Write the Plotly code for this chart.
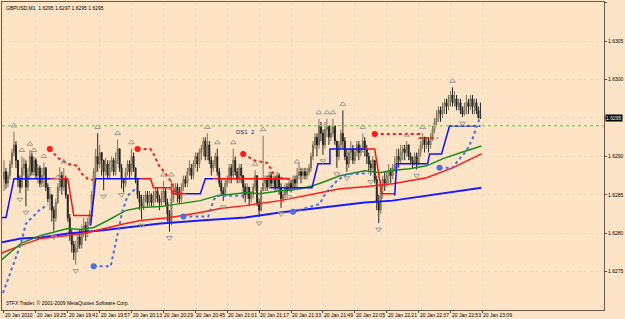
import plotly.graph_objects as go

# ---------------- data (prices in pips above PRICE_BASE) ----------------
PRICE_BASE = 1.6270
symbol_title = "GBPUSD,M1  1.6295 1.6297 1.6295 1.6295"
copyright_text = "3TFX Trader, \u00a9 2001-2009 MetaQuotes Software Corp."
bid_label = "1.6295"
bid_price = 1.6295
hline_price = 1.6294
hline_text = "DS1  2"
hline_text_bar = 115.5

time_tick_bars = [0, 16, 32, 48, 64, 80, 96, 112, 128, 144, 160, 176, 192, 208, 224, 240]
time_tick_labels = ["20 Jan 2010", "20 Jan 19:25", "20 Jan 19:41", "20 Jan 19:57", "20 Jan 20:13",
                    "20 Jan 20:29", "20 Jan 20:45", "20 Jan 21:01", "20 Jan 21:17", "20 Jan 21:33",
                    "20 Jan 21:49", "20 Jan 22:05", "20 Jan 22:21", "20 Jan 22:37", "20 Jan 22:53",
                    "20 Jan 23:09"]
price_ticks = [1.6275, 1.6280, 1.6285, 1.6290, 1.6295, 1.6300, 1.6305, 1.6310]

open_first = 17.0
close_pips = [
    18.0, 16.5, 17.5, 19.0, 20.5, 21.5, 19.5, 17.0, 16.0, 18.5,
    19.0, 16.0, 17.5, 20.0, 18.0, 19.5, 17.5, 18.5, 16.5, 17.5,
    18.5, 16.0, 14.5, 15.0, 13.0, 12.0, 14.0, 16.0, 17.5, 16.0,
    17.0, 15.0, 12.0, 10.0, 8.5, 7.5, 8.0, 9.5, 8.5, 10.5,
    11.0, 10.0, 11.5, 12.5, 15.0, 18.0, 20.0, 19.0, 20.5, 19.5,
    18.0, 19.0, 17.5, 18.5, 19.5, 18.0, 19.5, 21.0, 18.5, 17.0,
    16.5, 18.0, 19.0, 18.0, 20.0, 18.5, 17.0, 15.0, 14.0, 13.5,
    14.5, 15.0, 14.0, 15.0, 14.0, 14.5, 15.5, 14.5, 14.0, 14.5,
    15.5, 14.0, 12.5, 11.5, 14.5, 15.5, 16.0, 15.0, 14.5, 16.0,
    17.0, 16.5, 18.0, 18.5, 17.5, 19.0, 20.0, 19.0, 20.5, 21.0,
    22.0, 20.0, 21.5, 19.5, 18.5, 19.0, 20.0, 18.0, 16.5, 15.5,
    15.0, 16.5, 17.0, 18.5, 17.5, 19.5, 18.0, 17.0, 18.5, 17.5,
    16.0, 15.0, 16.0, 14.5, 15.0, 16.0, 17.5, 14.0, 13.0, 15.5,
    16.5, 17.0, 16.0, 17.5, 16.5, 17.0, 16.0, 17.5, 16.0, 14.5,
    15.0, 16.0, 15.5, 16.5, 16.0, 17.0, 16.5, 17.5, 18.0, 17.5,
    18.0, 17.5, 18.0, 18.5, 20.0, 21.5, 22.5, 21.5, 24.0, 23.0,
    21.5, 23.5, 24.0, 22.5, 23.0, 24.0, 22.0, 20.0, 21.5, 23.0,
    22.0, 20.0, 19.0, 20.5, 21.0, 19.5, 20.5, 21.5, 20.5, 21.0,
    22.0, 21.0, 20.0, 19.0, 18.5, 19.5, 17.0, 14.0, 13.0, 16.0,
    17.0, 16.5, 17.5, 18.0, 17.5, 18.5, 19.0, 20.0, 19.5, 20.5,
    21.0, 20.5, 21.5, 20.0, 19.5, 19.0, 20.0, 19.0, 20.5, 21.5,
    22.5, 21.5, 22.0, 21.5, 22.5, 23.5, 24.5, 25.0, 26.0, 25.5,
    26.5, 27.0, 26.5, 27.5, 28.0, 27.0, 27.5, 26.5, 27.0, 26.0,
    25.5, 26.5, 27.0, 26.5, 27.5, 26.5, 27.0, 26.0, 25.0, 25.0,
]
high_pips = [
    19.5, 18.5, 18.0, 19.5, 21.0, 23.2, 22.0, 19.5, 17.5, 20.0,
    19.8, 19.5, 18.5, 20.8, 20.5, 20.0, 19.8, 19.0, 18.8, 18.5,
    19.2, 18.6, 16.5, 16.0, 15.0, 13.5, 14.5, 16.5, 18.6, 18.0,
    18.5, 17.5, 15.0, 12.5, 10.5, 9.0, 9.0, 10.0, 10.5, 11.0,
    12.0, 11.5, 12.0, 13.0, 15.5, 18.5, 21.0, 23.0, 21.5, 20.5,
    19.5, 19.8, 19.5, 19.5, 20.0, 19.8, 20.5, 22.2, 21.0, 19.0,
    17.0, 18.5, 19.5, 19.5, 21.0, 20.5, 18.5, 17.0, 15.5, 15.0,
    15.0, 15.5, 15.5, 15.5, 15.2, 15.5, 16.0, 16.0, 15.0, 15.5,
    16.8, 16.0, 14.5, 13.0, 16.8, 16.5, 16.5, 16.5, 16.0, 16.5,
    17.5, 17.5, 18.5, 19.5, 19.0, 19.5, 20.5, 20.5, 21.0, 21.5,
    22.5, 22.5, 23.0, 22.0, 20.0, 19.5, 20.5, 21.0, 18.5, 17.0,
    16.0, 17.0, 17.5, 19.0, 19.0, 21.0, 20.0, 18.5, 19.0, 19.0,
    17.0, 16.5, 16.5, 16.0, 15.5, 16.5, 18.2, 17.5, 14.5, 16.0,
    22.7, 17.5, 17.5, 18.0, 18.0, 17.5, 17.5, 18.0, 17.8, 16.5,
    15.5, 16.5, 16.5, 17.0, 17.0, 17.5, 17.5, 18.5, 19.1, 18.5,
    18.5, 18.5, 18.5, 19.0, 20.5, 22.0, 23.0, 23.0, 24.9, 24.5,
    23.5, 24.5, 24.9, 24.0, 24.0, 24.9, 24.0, 22.0, 22.0, 23.5,
    26.0, 22.5, 21.0, 21.0, 22.0, 21.5, 21.0, 22.0, 22.0, 21.5,
    23.0, 22.5, 21.5, 20.5, 19.5, 20.0, 19.5, 17.5, 15.0, 17.0,
    17.5, 18.0, 18.0, 19.0, 18.5, 19.0, 20.0, 21.0, 21.0, 21.5,
    21.5, 21.5, 22.0, 21.5, 20.5, 20.0, 20.5, 20.5, 21.0, 22.0,
    23.0, 22.5, 22.5, 22.5, 23.0, 24.0, 25.0, 26.0, 26.5, 26.5,
    27.0, 27.5, 27.5, 28.0, 28.5, 29.0, 28.5, 28.0, 27.5, 27.5,
    26.5, 27.0, 28.0, 27.5, 28.0, 28.0, 27.5, 27.5, 26.5, 27.0,
]
low_pips = [
    15.5, 15.8, 16.0, 17.0, 18.5, 20.0, 18.5, 16.0, 15.2, 15.8,
    17.5, 13.5, 15.5, 17.0, 17.5, 17.5, 17.0, 16.5, 16.0, 16.0,
    16.0, 15.5, 14.0, 13.0, 11.5, 10.3, 11.5, 13.8, 15.5, 15.0,
    15.5, 14.5, 11.5, 9.0, 7.5, 6.5, 5.9, 7.5, 8.0, 8.0,
    9.5, 9.0, 9.5, 11.0, 12.5, 14.5, 17.0, 18.0, 18.5, 17.5,
    15.6, 17.5, 17.0, 17.0, 18.0, 17.5, 17.5, 19.0, 18.0, 15.8,
    15.3, 16.0, 17.5, 17.0, 17.5, 18.0, 16.5, 14.5, 13.0, 11.8,
    13.0, 14.0, 13.5, 13.5, 13.5, 13.5, 14.0, 14.0, 13.0, 13.5,
    14.0, 13.5, 11.5, 10.2, 11.0, 14.0, 15.0, 14.0, 13.8, 14.0,
    15.5, 16.0, 16.0, 17.5, 17.0, 17.0, 18.5, 18.0, 18.5, 19.5,
    20.0, 19.5, 19.5, 19.0, 17.5, 18.0, 18.5, 17.5, 16.0, 15.0,
    14.2, 14.8, 16.0, 16.5, 16.5, 17.0, 17.5, 16.5, 16.5, 16.5,
    14.5, 14.0, 14.5, 13.5, 14.0, 14.5, 15.5, 13.5, 12.1, 12.8,
    15.5, 15.5, 15.5, 15.8, 16.0, 16.0, 15.5, 15.5, 15.0, 13.3,
    14.0, 14.5, 15.0, 15.5, 15.3, 15.5, 16.0, 16.0, 17.0, 16.5,
    17.0, 17.0, 17.0, 17.5, 18.0, 19.5, 21.0, 20.0, 21.0, 22.0,
    20.2, 21.0, 22.5, 21.5, 22.0, 22.5, 21.5, 18.5, 19.5, 21.0,
    21.0, 19.5, 18.0, 18.5, 19.5, 19.0, 19.0, 20.0, 19.5, 20.0,
    20.5, 20.0, 19.0, 18.0, 17.5, 18.0, 16.5, 13.0, 11.3, 12.5,
    14.5, 15.5, 16.0, 16.5, 16.5, 17.0, 18.0, 18.5, 18.5, 19.0,
    19.5, 19.5, 20.0, 19.5, 19.0, 18.5, 18.8, 18.3, 18.8, 20.0,
    21.0, 20.5, 21.0, 20.5, 21.0, 22.0, 23.0, 24.0, 24.5, 24.5,
    25.0, 25.5, 25.5, 26.0, 26.5, 26.5, 26.5, 26.0, 26.0, 25.5,
    25.1, 25.3, 25.5, 25.5, 26.0, 25.5, 25.5, 25.5, 25.0, 25.0,
]

# fractal bars
fractal_up_bars = [5, 9, 13, 15, 20, 27, 30, 47, 57, 64, 80, 84, 102, 107, 115, 126, 130, 147,
                   158, 162, 165, 170, 180, 202, 210, 225]
fractal_down_bars = [8, 11, 25, 36, 50, 59, 69, 83, 110, 128, 139, 143, 160, 167, 172, 184, 188,
                     207, 230]

# moving averages (bar, pips)
ma_green_bar = [-1.5, 8.5, 18.5, 32, 38.5, 45, 52, 61, 68.5, 78.5, 88.5, 98.5, 107, 121, 128.5,
                138.5, 148.5, 155, 162, 168.5, 181, 188.5, 193.5, 203.5, 212, 220, 228.5, 239.5]
ma_green_val = [6.47, 8.67, 9.71, 10.61, 10.49, 10.74, 11.65, 12.94, 13.33, 13.46, 13.85, 14.24,
                14.89, 15.28, 15.15, 15.53, 15.79, 16.18, 16.83, 17.48, 18.12, 17.86, 18.12, 18.38,
                18.77, 19.68, 20.45, 21.36]
ma_red_bar = [-1.5, 8.5, 18.5, 32, 42, 52, 61, 68.5, 83.5, 98.5, 108.5, 121, 138.5, 158.5, 168.5,
              181, 195, 212, 225, 239.5]
ma_red_val = [7.38, 8.41, 9.32, 9.71, 10.10, 10.74, 11.26, 11.65, 12.04, 12.69, 13.20, 13.59,
              14.24, 15.28, 15.79, 16.05, 16.44, 17.22, 18.51, 20.32]
ma_blue_bar = [-1.5, 8.5, 18.5, 32, 48.5, 61, 78.5, 98.5, 121, 138.5, 158.5, 181, 195, 212, 228.5,
               239.5]
ma_blue_val = [8.80, 9.32, 9.45, 9.97, 10.36, 10.74, 11.26, 11.65, 12.04, 12.69, 13.33, 13.98,
               14.24, 14.89, 15.53, 15.92]

# step lines (None separates segments)
step_blue_bar = [-1.5, 1, 5, 23.5, None, 43.5, 46, 68.5, None, 91, 98.5, 101, 105, None,
                 133.5, 154.5, 157.5, 163.5, 163.5, 181, None,
                 196, 197, 212.5, 213.5, 219.5, 223.5, 239]
step_blue_val = [12.04, 12.04, 17.09, 17.09, None, 11.00, 17.09, 17.09, None, 15.15, 15.15, 17.09,
                 17.09, None, 15.92, 15.92, 19.03, 19.03, 20.97, 20.97, None,
                 14.89, 19.03, 19.03, 20.32, 20.32, 23.95, 23.95]
step_red_bar = [23.5, 32, 35, 44.5, None, 68.5, 73.5, 75, 83.5, 85, 91, None, 105, 143.5, None,
                181, 186, 189.5, 196]
step_red_val = [17.09, 17.09, 12.30, 12.30, None, 17.09, 17.09, 15.92, 15.92, 15.15, 15.15, None,
                17.09, 17.09, None, 20.97, 20.97, 15.15, 15.15]

# trailing dots (each list starts at the trail start)
trail_red = [
    ([23, 27, 32, 37, 38.5, 42, 44.5], [20.97, 19.81, 19.03, 18.77, 17.86, 17.09, 16.96]),
    ([67, 73.5, 75, 77.5, 80, 83.5, 85, 86, 89.5], [20.97, 20.97, 20.32, 18.90, 18.12, 16.83, 15.79, 15.28, 15.15]),
    ([120, 126, 132, 134.5, 136, 143.5], [20.32, 19.42, 19.16, 18.12, 17.22, 17.09]),
    ([186, 208.5, 208.5, 217.5], [22.91, 22.91, 22.39, 22.39]),
]
trail_blue = [
    ([-0.5, 3.5, 8.5, 11, 17.5, 22], [2.2, 5.18, 8.67, 11.26, 12.94, 13.72]),
    ([45, 53.5, 56, 58, 59.5, 62, 66], [5.70, 5.70, 8.67, 10.94, 12.94, 14.89, 15.79]),
    ([90, 102.5, 103.5, 105, 106.8, 121], [12.17, 12.17, 12.94, 14.24, 14.89, 14.89]),
    ([145, 158.5, 160, 162.5, 167, 172, 183], [12.8, 13.8, 14.67, 15.53, 16.83, 17.7, 17.8]),
    ([218.5, 225, 228.5, 232, 235, 238.5, 239.5], [18.51, 18.51, 19.68, 20.71, 22.26, 24.86, 25.2]),
]
trail_starts_open = [False, True, True, True, True]


def px(v):
    return None if v is None else PRICE_BASE + v / 10000.0


bars = list(range(len(close_pips)))
opens = [open_first] + close_pips[:-1]
o = [px(v) for v in opens]
c = [px(v) for v in close_pips]
h = [px(max(hh, oo, cc)) for hh, oo, cc in zip(high_pips, opens, close_pips)]
l = [px(min(ll, oo, cc)) for ll, oo, cc in zip(low_pips, opens, close_pips)]

FONT = "Liberation Sans, Arial, sans-serif"
BG = "#FDE4C6"
SMALL = 5

fig = go.Figure()

# MAs
fig.add_trace(go.Scatter(x=ma_blue_bar, y=[px(v) for v in ma_blue_val], mode="lines",
                         line=dict(color="#1a1aff", width=2), hoverinfo="skip"))
fig.add_trace(go.Scatter(x=ma_red_bar, y=[px(v) for v in ma_red_val], mode="lines",
                         line=dict(color="#ff1a1a", width=1.5), hoverinfo="skip"))
fig.add_trace(go.Scatter(x=ma_green_bar, y=[px(v) for v in ma_green_val], mode="lines",
                         line=dict(color="#1a8c1a", width=1.5), hoverinfo="skip"))

# candles
fig.add_trace(go.Candlestick(
    x=bars, open=o, high=h, low=l, close=c,
    increasing=dict(line=dict(color="#7a7258", width=1), fillcolor="#c4b897"),
    decreasing=dict(line=dict(color="#222222", width=1), fillcolor="#222222"),
    whiskerwidth=0, hoverinfo="skip"))

# step lines
fig.add_trace(go.Scatter(x=step_red_bar, y=[px(v) for v in step_red_val], mode="lines",
                         line=dict(color="#ff1010", width=1.5), connectgaps=False, hoverinfo="skip"))
fig.add_trace(go.Scatter(x=step_blue_bar, y=[px(v) for v in step_blue_val], mode="lines",
                         line=dict(color="#1010ff", width=1.5), connectgaps=False, hoverinfo="skip"))

# trailing dotted lines
for xs, ys in trail_red:
    fig.add_trace(go.Scatter(x=xs, y=[px(v) for v in ys], mode="lines",
                             line=dict(color="#ff1a1a", width=2, dash="dot"), hoverinfo="skip"))
    fig.add_trace(go.Scatter(x=[xs[0]], y=[px(ys[0])], mode="markers",
                             marker=dict(color="#ff1a1a", size=6), hoverinfo="skip"))
for (xs, ys), has_start in zip(trail_blue, trail_starts_open):
    fig.add_trace(go.Scatter(x=xs, y=[px(v) for v in ys], mode="lines",
                             line=dict(color="#4a6fe0", width=2, dash="dot"), hoverinfo="skip"))
    if has_start:
        fig.add_trace(go.Scatter(x=[xs[0]], y=[px(ys[0])], mode="markers",
                                 marker=dict(color="#4a6fe0", size=6), hoverinfo="skip"))

# fractals
fig.add_trace(go.Scatter(x=fractal_up_bars, y=[h[i] + 0.00008 for i in fractal_up_bars],
                         mode="markers", hoverinfo="skip",
                         marker=dict(symbol="triangle-up-open", size=5, color="#999999",
                                     line=dict(width=1, color="#999999"))))
fig.add_trace(go.Scatter(x=fractal_down_bars, y=[l[i] - 0.00008 for i in fractal_down_bars],
                         mode="markers", hoverinfo="skip",
                         marker=dict(symbol="triangle-down-open", size=5, color="#999999",
                                     line=dict(width=1, color="#999999"))))

# horizontal line
fig.add_shape(type="line", xref="paper", x0=0, x1=1, yref="y", y0=hline_price, y1=hline_price,
              line=dict(color="#86d46e", width=1.5, dash="dot"))

annotations = []
for b, t in zip(time_tick_bars, time_tick_labels):
    annotations.append(dict(x=b, xref="x", y=0, yref="paper", text=t, showarrow=False,
                            xanchor="left", yanchor="top", xshift=-1, yshift=0,
                            font=dict(family=FONT, size=SMALL, color="#000000")))
annotations.append(dict(x=hline_text_bar, xref="x", y=hline_price, yref="y", text=hline_text,
                        showarrow=False, xanchor="left", yanchor="top", yshift=-1,
                        font=dict(family=FONT, size=6, color="#1c1c80")))
annotations.append(dict(x=0, xref="paper", y=1, yref="paper", text=symbol_title, showarrow=False,
                        xanchor="left", yanchor="top", xshift=2, yshift=-1,
                        font=dict(family=FONT, size=SMALL, color="#000000")))
annotations.append(dict(x=0, xref="paper", y=0, yref="paper", text=copyright_text, showarrow=False,
                        xanchor="left", yanchor="bottom", xshift=2, yshift=2,
                        font=dict(family=FONT, size=SMALL, color="#000000")))
annotations.append(dict(x=1, xref="paper", y=bid_price, yref="y", text=bid_label, showarrow=False,
                        xanchor="left", yanchor="middle", xshift=1, bgcolor="#000000", borderpad=0,
                        font=dict(family=FONT, size=SMALL, color="#ffffff")))

fig.update_layout(
    width=625, height=319,
    margin=dict(l=1, r=19, t=1, b=9),
    paper_bgcolor=BG, plot_bgcolor=BG,
    showlegend=False,
    annotations=annotations,
    xaxis=dict(range=[-1, 301], tickvals=time_tick_bars, showticklabels=False,
               ticks="outside", ticklen=2, tickcolor="#5a4a3a",
               showgrid=True, gridcolor="#f6dcbe", griddash="dot", gridwidth=1,
               showline=True, mirror=True, linecolor="#6a5a48", linewidth=1,
               zeroline=False, rangeslider=dict(visible=False), fixedrange=True),
    yaxis=dict(range=[1.6270, 1.63101], side="right", tickvals=price_ticks,
               ticktext=["" if abs(v - bid_price) < 1e-7 else "%.4f" % v for v in price_ticks],
               ticks="outside", ticklen=2,
               tickcolor="#5a4a3a", tickfont=dict(family=FONT, size=SMALL, color="#000000"),
               showgrid=True, gridcolor="#f6dcbe", griddash="dot", gridwidth=1,
               showline=True, mirror=True, linecolor="#6a5a48", linewidth=1,
               zeroline=False, fixedrange=True),
)

fig.write_html("out.html")
